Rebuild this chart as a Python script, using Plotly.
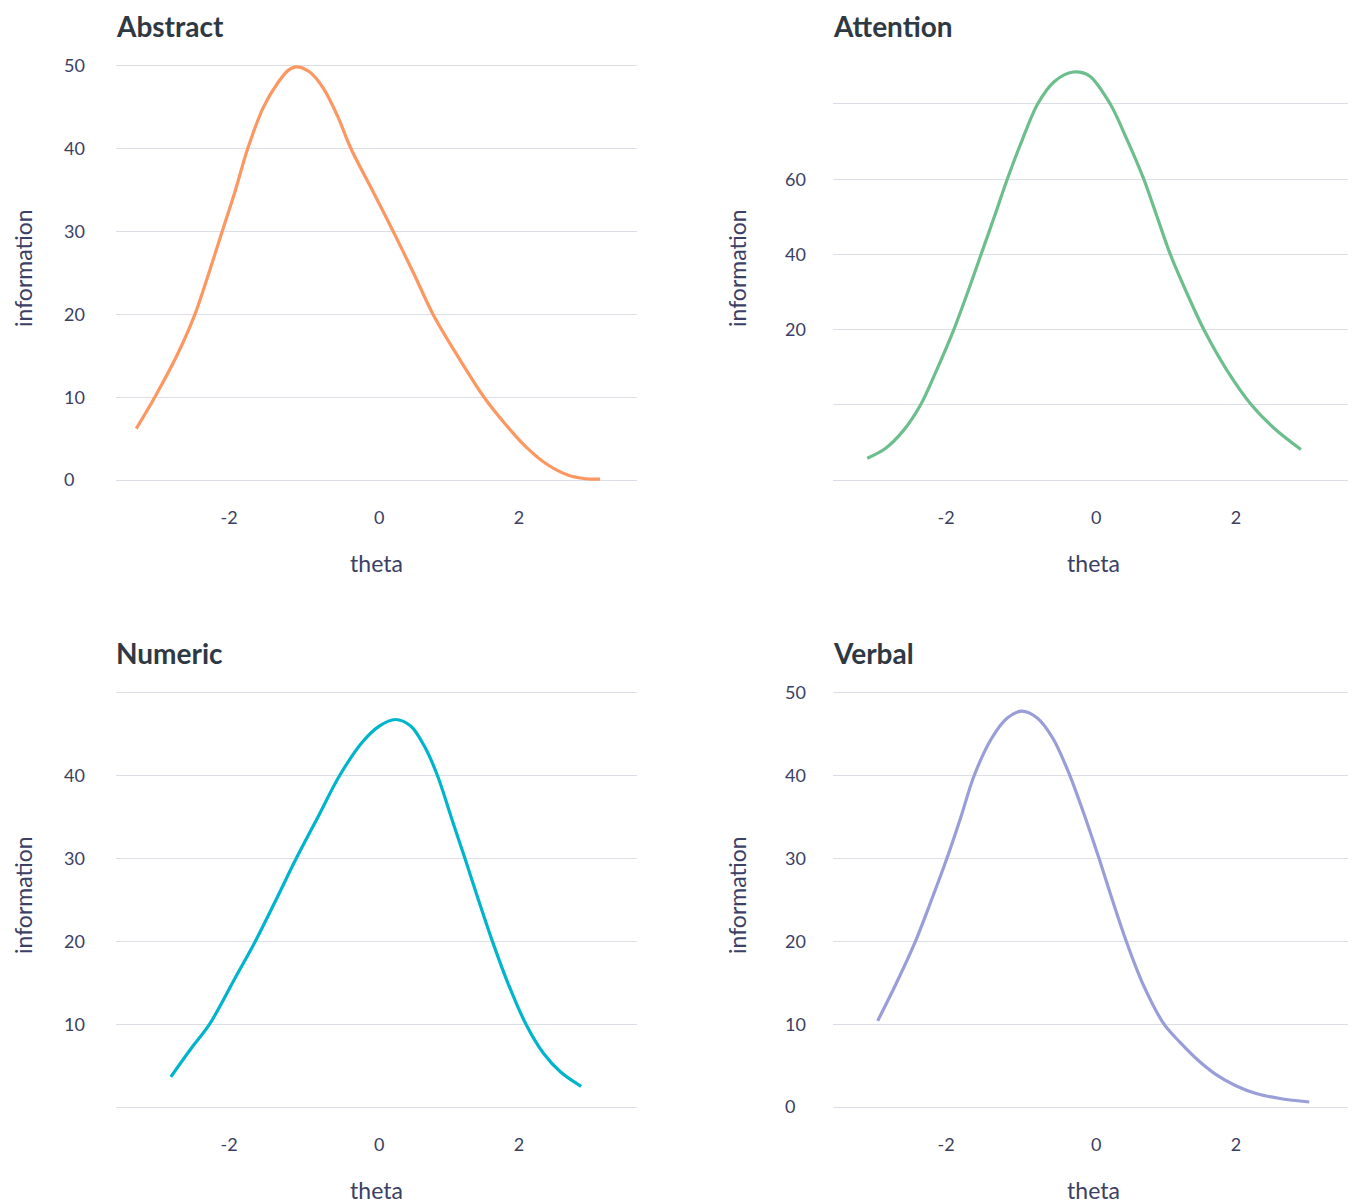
import plotly.graph_objects as go

W, H = 1356, 1203

# ---------------- data ----------------
panel_titles = ["Abstract", "Attention", "Numeric", "Verbal"]
x_title = "theta"
y_title = "information"
x_tick_values = [-2, 0, 2]
x_tick_labels = ["-2", "0", "2"]

abstract_theta = [-3.48, -3.215, -2.90, -2.64, -2.44, -2.25, -2.06, -1.885, -1.66, -1.45, -1.30,
                  -1.19, -1.00, -0.80, -0.60, -0.405, -0.10, 0.20, 0.49, 0.77, 1.12, 1.50,
                  1.80, 2.10, 2.40, 2.70, 2.95, 3.16]
abstract_info = [6.2, 10.0, 15.0, 20.0, 25.0, 30.0, 35.0, 40.0, 45.0, 48.0, 49.5,
                 49.9, 49.3, 47.3, 44.0, 40.0, 35.0, 30.0, 25.0, 20.0, 15.0, 10.0,
                 6.8, 4.0, 1.9, 0.6, 0.15, 0.1]

attention_theta = [-3.28, -3.02, -2.76, -2.515, -2.28, -2.04, -1.84, -1.65, -1.46, -1.275, -1.07,
                   -0.84, -0.60, -0.33, -0.10, 0.20, 0.44, 0.68, 0.87, 1.06, 1.29, 1.54,
                   1.86, 2.22, 2.55, 2.93]
attention_info = [-14.2, -11.6, -6.8, 0.0, 9.5, 20.0, 30.0, 40.0, 50.0, 60.0, 70.0,
                  80.0, 86.0, 88.5, 87.5, 80.0, 70.5, 60.0, 50.0, 40.0, 30.0, 20.0,
                  9.5, 0.0, -6.3, -11.9]

numeric_theta = [-2.985, -2.70, -2.43, -2.07, -1.776, -1.48, -1.19, -0.88, -0.57, -0.25, 0.00,
                 0.23, 0.45, 0.65, 0.834, 1.03, 1.227, 1.42, 1.62, 1.84, 2.10, 2.35, 2.60, 2.89]
numeric_info = [3.64, 7.0, 10.0, 15.5, 20.0, 25.0, 30.0, 35.0, 40.0, 44.0, 46.0,
                46.8, 46.0, 43.5, 40.0, 35.0, 30.0, 25.0, 20.0, 15.0, 10.0, 6.5, 4.2, 2.5]

verbal_theta = [-3.13, -2.86, -2.59, -2.36, -2.14, -1.94, -1.75, -1.50, -1.27, -1.066, -0.85,
                -0.62, -0.377, -0.16, 0.04, 0.23, 0.43, 0.66, 0.97, 1.20, 1.45, 1.70,
                1.99, 2.30, 2.65, 3.05]
verbal_info = [10.4, 15.0, 20.0, 25.0, 30.0, 35.0, 40.0, 44.5, 47.0, 47.8, 47.0,
               44.5, 40.0, 35.0, 30.0, 25.0, 20.0, 15.0, 10.0, 7.8, 5.7, 4.0,
               2.6, 1.6, 1.0, 0.6]

# gridline values and the subset of them that carry a label, per panel
abstract_grid = [0, 10, 20, 30, 40, 50]
abstract_labels = [0, 10, 20, 30, 40, 50]
attention_grid = [-20, 0, 20, 40, 60, 80]
attention_labels = [20, 40, 60]
numeric_grid = [0, 10, 20, 30, 40, 50]
numeric_labels = [10, 20, 30, 40]
verbal_grid = [0, 10, 20, 30, 40, 50]
verbal_labels = [0, 10, 20, 30, 40, 50]

series = [
    (abstract_theta, abstract_info, abstract_grid, abstract_labels),
    (attention_theta, attention_info, attention_grid, attention_labels),
    (numeric_theta, numeric_info, numeric_grid, numeric_labels),
    (verbal_theta, verbal_info, verbal_grid, verbal_labels),
]

# ---------------- styling ----------------
colors = ["#fd9761", "#6cbf8c", "#00b5cb", "#9a9ed8"]
FONT = "Lato, 'Open Sans', sans-serif"
TICK_COLOR = "#3b4064"
TITLE_COLOR = "#2e3944"
GRID_COLOR = "#dcdee5"
FIG_SPACE = "\u2007"  # digit-wide space, used to left-align the tick labels

# page body adds an 8px offset; positions below are screen pixels
OFF = 8
cols = [(116, 637), (833, 1354)]
col_label_standoff = [30, 26]
col_ytitle_x = [23, 737]
rows = [(50, 500), (677, 1127)]
row_ytitle_y = [268, 895]
x_range = [-3.77, 3.69]
y_ranges = [[-2.415, 51.93], [-25.32, 94.36], [-2.415, 51.93], [-2.415, 51.93]]


def px_x(p):
    return (p - OFF) / W


def px_y(p):
    return 1 - (p - OFF) / H


def y_label(v):
    s = str(v)
    return s + FIG_SPACE * (2 - len(s))


def x_label(t):
    return t + FIG_SPACE * 2 if t.startswith("-") else t


fig = go.Figure()

for i, (theta, info, grid, labels) in enumerate(series):
    r, c = divmod(i, 2)
    n = i + 1
    xa = "x" if n == 1 else f"x{n}"
    ya = "y" if n == 1 else f"y{n}"
    fig.add_trace(go.Scatter(
        x=theta, y=info, mode="lines", xaxis=xa, yaxis=ya,
        line=dict(color=colors[i], width=3.2, shape="spline", smoothing=0.9),
        showlegend=False, hoverinfo="x+y",
    ))
    left, right = cols[c]
    top, bottom = rows[r]
    xkey = "xaxis" if n == 1 else f"xaxis{n}"
    ykey = "yaxis" if n == 1 else f"yaxis{n}"
    fig.layout[xkey] = dict(
        domain=[px_x(left), px_x(right)], anchor=ya, range=x_range,
        showgrid=False, zeroline=False, showline=False, ticks="",
        tickvals=x_tick_values, ticktext=[x_label(t) for t in x_tick_labels],
        tickfont=dict(family=FONT, size=18, color=TICK_COLOR),
        ticklabelstandoff=5,
        title=dict(text=x_title, font=dict(family=FONT, size=23, color=TICK_COLOR), standoff=28),
        automargin=False,
    )
    fig.layout[ykey] = dict(
        domain=[px_y(bottom), px_y(top)], anchor=xa, range=y_ranges[i],
        showgrid=True, gridcolor=GRID_COLOR, gridwidth=1, zeroline=False,
        showline=False, ticks="",
        tickvals=grid,
        ticktext=[y_label(v) if v in labels else "" for v in grid],
        tickfont=dict(family=FONT, size=18, color=TICK_COLOR),
        ticklabelstandoff=col_label_standoff[c],
        automargin=False,
    )
    # y axis title (as rotated text, so it can sit close to the page edge)
    fig.add_annotation(
        text=y_title, xref="paper", yref="paper",
        x=px_x(col_ytitle_x[c]), y=px_y(row_ytitle_y[r]), xanchor="center", yanchor="middle",
        textangle=-90, showarrow=False, font=dict(family=FONT, size=23, color=TICK_COLOR),
    )
    # panel title
    fig.add_annotation(
        text=f"<b>{panel_titles[i]}</b>", xref="paper", yref="paper",
        x=px_x(left - 2), y=px_y(top - 24.5), xanchor="left", yanchor="middle",
        showarrow=False, font=dict(family=FONT, size=28, color=TITLE_COLOR),
    )

fig.update_layout(
    width=W, height=H, margin=dict(l=0, r=0, t=0, b=0),
    paper_bgcolor="white", plot_bgcolor="white",
    font=dict(family=FONT),
)

fig.write_html("out.html")
